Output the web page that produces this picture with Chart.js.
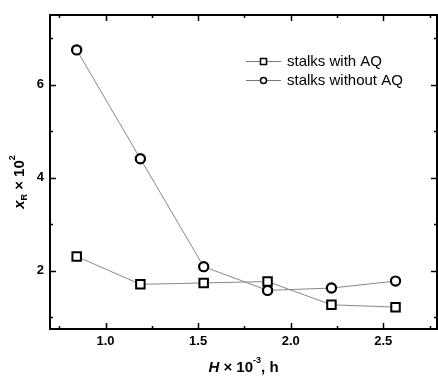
<!DOCTYPE html>
<html>
<head>
<meta charset="utf-8">
<script src="https://cdn.jsdelivr.net/npm/chart.js@4/dist/chart.umd.min.js"></script>
<style>
  html, body { margin: 0; padding: 0; background: #fff; }
  #wrap { width: 438px; height: 379px; }
</style>
</head>
<body>
<div id="wrap"><canvas id="chart" width="438" height="379"></canvas></div>
<script>
// data
const hours = [0.844, 1.188, 1.53, 1.875, 2.22, 2.566];
const withAQ = [2.31, 1.71, 1.74, 1.77, 1.27, 1.22];
const withoutAQ = [6.75, 4.41, 2.09, 1.58, 1.63, 1.78];
const seriesNames = ['stalks with AQ', 'stalks without AQ'];
const xMajorTicks = [1.0, 1.5, 2.0, 2.5];
const xMinorTicks = [0.75, 1.25, 1.75, 2.25, 2.75];
const yMajorTicks = [2, 4, 6];
const yMinorTicks = [1, 3, 5, 7];

const FONT = '"Liberation Sans", Arial, sans-serif';

function toPoints(xs, ys) {
    return xs.map((x, i) => ({ x: x, y: ys[i] }));
}

// draws the frame, inward ticks, labels, titles and legend
const framePlugin = {
    id: 'frame',
    afterDraw(chart) {
        const ctx = chart.ctx;
        const a = chart.chartArea;
        const xs = chart.scales.x;
        const ys = chart.scales.y;
        ctx.save();
        ctx.strokeStyle = '#000';
        ctx.lineWidth = 2;
        ctx.strokeRect(a.left, a.top, a.right - a.left, a.bottom - a.top);

        ctx.lineWidth = 1.5;
        const tick = (x1, y1, x2, y2) => {
            ctx.beginPath(); ctx.moveTo(x1, y1); ctx.lineTo(x2, y2); ctx.stroke();
        };
        xMajorTicks.forEach(v => {
            const px = Math.round(xs.getPixelForValue(v)) + 0.5;
            tick(px, a.bottom, px, a.bottom - 6);
            tick(px, a.top, px, a.top + 6);
        });
        xMinorTicks.forEach(v => {
            const px = Math.round(xs.getPixelForValue(v)) + 0.5;
            tick(px, a.bottom, px, a.bottom - 3);
            tick(px, a.top, px, a.top + 3);
        });
        yMajorTicks.forEach(v => {
            const py = Math.round(ys.getPixelForValue(v)) + 0.5;
            tick(a.left, py, a.left + 6, py);
            tick(a.right, py, a.right - 6, py);
        });
        yMinorTicks.forEach(v => {
            const py = Math.round(ys.getPixelForValue(v)) + 0.5;
            tick(a.left, py, a.left + 3, py);
            tick(a.right, py, a.right - 3, py);
        });

        // tick labels
        ctx.fillStyle = '#000';
        ctx.font = 'bold 13px ' + FONT;
        ctx.textAlign = 'center';
        ctx.textBaseline = 'top';
        xMajorTicks.forEach(v => {
            ctx.fillText(v.toFixed(1), xs.getPixelForValue(v), a.bottom + 6);
        });
        ctx.textAlign = 'right';
        ctx.textBaseline = 'middle';
        yMajorTicks.forEach(v => {
            ctx.fillText(String(v), a.left - 6, ys.getPixelForValue(v));
        });

        // x axis title: H x 10^-3, h
        const xParts = [
            { t: 'H', f: 'italic bold 15px ' + FONT, dy: 0 },
            { t: ' \u00d7 10', f: 'bold 15px ' + FONT, dy: 0 },
            { t: '-3', f: 'bold 9px ' + FONT, dy: -7 },
            { t: ', h', f: 'bold 15px ' + FONT, dy: 0 }
        ];
        drawParts(ctx, xParts, (a.left + a.right) / 2, 368);

        // y axis title: x_R x 10^2 (rotated)
        ctx.save();
        ctx.translate(20, 182);
        ctx.rotate(-Math.PI / 2);
        const yParts = [
            { t: 'x', f: 'italic bold 15px ' + FONT, dy: 0 },
            { t: 'R', f: 'bold 9px ' + FONT, dy: 5 },
            { t: ' \u00d7 10', f: 'bold 15px ' + FONT, dy: 0 },
            { t: '2', f: 'bold 9px ' + FONT, dy: -7 }
        ];
        drawParts(ctx, yParts, 0, 0);
        ctx.restore();

        // legend
        const legX = 246, legY = [61, 80];
        chart.data.datasets.forEach((ds, i) => {
            const y = legY[i];
            ctx.strokeStyle = '#777';
            ctx.lineWidth = 1;
            tick(legX, y + 0.5, legX + 35, y + 0.5);
            ctx.fillStyle = '#fff';
            ctx.strokeStyle = '#000';
            ctx.lineWidth = 1.5;
            if (ds.pointStyle === 'rect') {
                ctx.fillRect(legX + 14.5, y - 2.5, 6, 6);
                ctx.strokeRect(legX + 14.5, y - 2.5, 6, 6);
            } else {
                ctx.beginPath();
                ctx.arc(legX + 17.5, y + 0.5, 3, 0, Math.PI * 2);
                ctx.fill();
                ctx.stroke();
            }
            ctx.fillStyle = '#000';
            ctx.font = '15px ' + FONT;
            ctx.textAlign = 'left';
            ctx.textBaseline = 'middle';
            ctx.fillText(ds.label, legX + 41, y + 1);
        });
        ctx.restore();
    }
};

function drawParts(ctx, parts, cx, cy) {
    let total = 0;
    parts.forEach(p => { ctx.font = p.f; total += ctx.measureText(p.t).width; });
    let x = cx - total / 2;
    ctx.textAlign = 'left';
    ctx.textBaseline = 'middle';
    ctx.fillStyle = '#000';
    parts.forEach(p => {
        ctx.font = p.f;
        ctx.fillText(p.t, x, cy + p.dy);
        x += ctx.measureText(p.t).width;
    });
}

new Chart(document.getElementById('chart'), {
    type: 'scatter',
    data: {
        datasets: [
            {
                label: seriesNames[0],
                data: toPoints(hours, withAQ),
                showLine: true,
                borderColor: '#888',
                borderWidth: 1,
                pointStyle: 'rect',
                pointRadius: 6,
                pointBorderWidth: 2,
                pointBorderColor: '#000',
                pointBackgroundColor: '#fff'
            },
            {
                label: seriesNames[1],
                data: toPoints(hours, withoutAQ),
                showLine: true,
                borderColor: '#888',
                borderWidth: 1,
                pointStyle: 'circle',
                pointRadius: 4.6,
                pointBorderWidth: 2.2,
                pointBorderColor: '#000',
                pointBackgroundColor: '#fff'
            }
        ]
    },
    options: {
        responsive: false,
        animation: false,
        layout: { autoPadding: false, padding: { left: 50, top: 15, right: 1, bottom: 50 } },
        plugins: { legend: { display: false }, tooltip: { enabled: false } },
        scales: {
            x: { type: 'linear', min: 0.7, max: 2.79, display: false },
            y: { type: 'linear', min: 0.75, max: 7.5, display: false }
        }
    },
    plugins: [framePlugin]
});
</script>
</body>
</html>
